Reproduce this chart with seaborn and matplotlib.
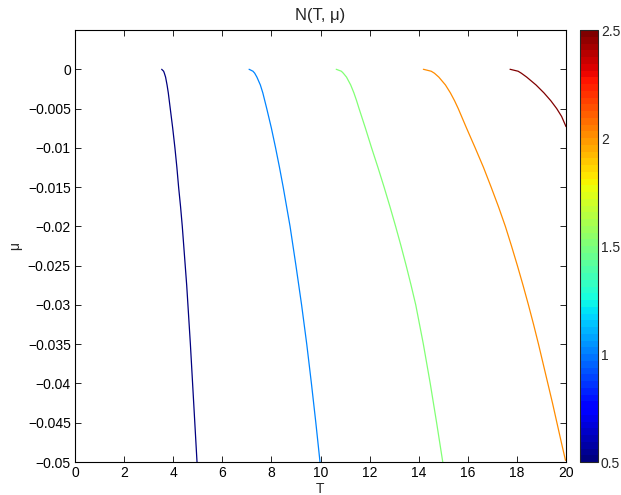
import numpy as np
import pandas as pd
import matplotlib
matplotlib.use("Agg")
import matplotlib.pyplot as plt
import seaborn as sns

# Contour levels of N(T, mu) and the points
levels = [0.5, 1.0, 1.5, 2.0, 2.5]

mu_05 = [0, -0.00025, -0.0005, -0.001, -0.002, -0.003, -0.004, -0.005, -0.0075, -0.01, -0.0125,
         -0.015, -0.0175, -0.02, -0.0225, -0.025, -0.0275, -0.03, -0.035, -0.04, -0.045, -0.05]
T_05 = [3.53, 3.61, 3.64, 3.69, 3.75, 3.80, 3.84, 3.88, 3.98, 4.07, 4.15,
        4.22, 4.30, 4.37, 4.43, 4.49, 4.55, 4.60, 4.70, 4.79, 4.88, 4.97]

mu_10 = [0, -0.00025, -0.0005, -0.001, -0.002, -0.003, -0.004, -0.005, -0.0075, -0.01, -0.0125,
         -0.015, -0.0175, -0.02, -0.025, -0.03, -0.035, -0.04, -0.045, -0.05]
T_10 = [7.09, 7.25, 7.32, 7.41, 7.55, 7.65, 7.73, 7.81, 8.00, 8.17, 8.33,
        8.48, 8.62, 8.76, 9.00, 9.23, 9.44, 9.63, 9.81, 9.98]

mu_15 = [0, -0.00025, -0.0005, -0.001, -0.002, -0.003, -0.004, -0.005, -0.0075, -0.01, -0.0125,
         -0.015, -0.0175, -0.02, -0.0225, -0.025, -0.0275, -0.03, -0.035, -0.04, -0.045, -0.05]
T_15 = [10.64, 10.85, 10.93, 11.06, 11.23, 11.36, 11.47, 11.57, 11.83, 12.08, 12.34,
        12.59, 12.83, 13.06, 13.28, 13.49, 13.69, 13.88, 14.19, 14.47, 14.73, 14.98]

mu_20 = [0, -0.00025, -0.0005, -0.001, -0.002, -0.003, -0.004, -0.005, -0.0075, -0.01, -0.0125,
         -0.015, -0.0175, -0.02, -0.0225, -0.025, -0.0275, -0.03, -0.0325, -0.035, -0.0375,
         -0.04, -0.0425, -0.045, -0.0475, -0.0498]
T_20 = [14.19, 14.51, 14.64, 14.82, 15.09, 15.29, 15.46, 15.61, 15.95, 16.30, 16.64,
        16.95, 17.25, 17.53, 17.78, 18.02, 18.25, 18.47, 18.68, 18.88, 19.07,
        19.26, 19.45, 19.63, 19.81, 19.98]

mu_25 = [0, -0.00025, -0.0005, -0.001, -0.002, -0.003, -0.004, -0.005, -0.006, -0.0073]
T_25 = [17.72, 18.05, 18.18, 18.40, 18.78, 19.10, 19.38, 19.62, 19.82, 20.0]

x_ticks = list(range(0, 21, 2))
y_ticks = [0, -0.005, -0.01, -0.015, -0.02, -0.025, -0.03, -0.035, -0.04, -0.045, -0.05]
y_ticklabels = ["0", "\u22120.005", "\u22120.01", "\u22120.015", "\u22120.02", "\u22120.025",
                "\u22120.03", "\u22120.035", "\u22120.04", "\u22120.045", "\u22120.05"]
cb_ticks = [0.5, 1, 1.5, 2, 2.5]
cb_ticklabels = ["0.5", "1", "1.5", "2", "2.5"]

curves = [(0.5, T_05, mu_05), (1.0, T_10, mu_10), (1.5, T_15, mu_15),
          (2.0, T_20, mu_20), (2.5, T_25, mu_25)]
df = pd.concat([pd.DataFrame({"T": t, "mu": m, "N": lev}) for lev, t, m in curves],
               ignore_index=True)

sns.set_style("ticks")
plt.rcParams["font.family"] = ["Liberation Sans", "DejaVu Sans"]

cmap = plt.get_cmap("jet", 64)
norm = matplotlib.colors.Normalize(vmin=0.5, vmax=2.5)

fig = plt.figure(figsize=(6.21, 4.95), dpi=100)
ax = fig.add_axes([75 / 621, 33 / 495, 491 / 621, 432 / 495])
cax = fig.add_axes([580 / 621, 33 / 495, 18 / 621, 432 / 495])

sns.lineplot(data=df, x="T", y="mu", hue="N", palette=cmap, hue_norm=norm,
             sort=False, estimator=None, units="N", legend=False, linewidth=0.9, ax=ax)

ax.set_xlim(0, 20)
ax.set_ylim(-0.05, 0.005)
ax.set_xticks(x_ticks)
ax.set_xticklabels([str(v) for v in x_ticks])
ax.set_yticks(y_ticks)
ax.set_yticklabels(y_ticklabels)
ax.tick_params(direction="in", top=True, right=True, length=4, width=0.6,
               labelsize=10, colors="black", pad=3)
for s in ax.spines.values():
    s.set_visible(True)
    s.set_linewidth(0.8)
    s.set_color("black")
ax.set_xlabel("T", fontsize=10, labelpad=1)
ax.set_ylabel("\u03bc", fontsize=10, labelpad=4)
ax.set_title("N(T, \u03bc)", fontsize=12, pad=7)

sm = matplotlib.cm.ScalarMappable(norm=norm, cmap=cmap)
cb = fig.colorbar(sm, cax=cax)
cb.set_ticks(cb_ticks)
cb.set_ticklabels(cb_ticklabels)
cax.tick_params(direction="in", left=True, right=True, length=3, width=0.6,
                labelsize=10, pad=2)
cb.outline.set_linewidth(0.8)

fig.savefig("out.png", dpi=100)
